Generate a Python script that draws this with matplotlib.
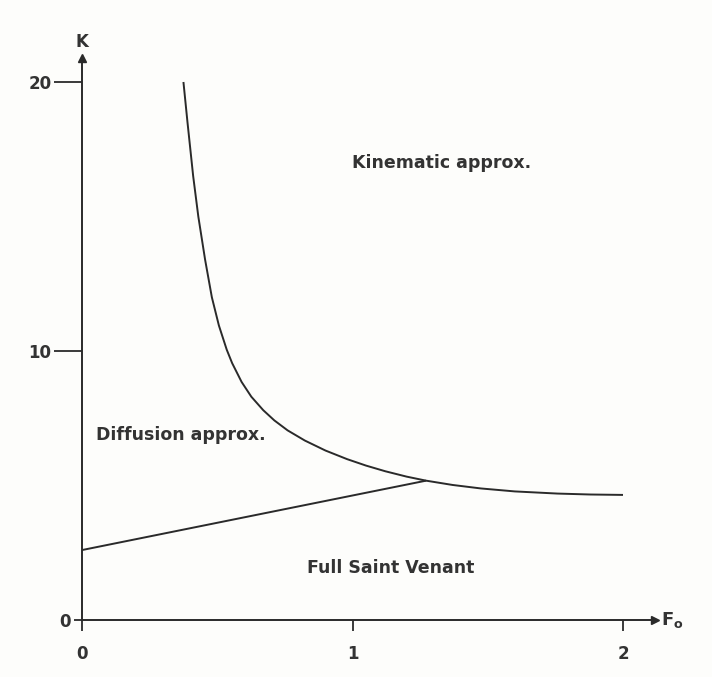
import matplotlib
matplotlib.use("Agg")
import matplotlib.pyplot as plt

# Data
curve_x = [0.375, 0.39, 0.411, 0.43, 0.455, 0.48, 0.506, 0.535, 0.555, 0.59, 0.626,
           0.67, 0.711, 0.76, 0.824, 0.90, 0.98, 1.05, 1.121, 1.20, 1.272, 1.37,
           1.475, 1.60, 1.758, 1.88, 2.0]
curve_k = [20.0, 18.5, 16.5, 15.0, 13.4, 12.0, 10.95, 10.05, 9.55, 8.85, 8.3,
           7.8, 7.42, 7.05, 6.67, 6.3, 5.98, 5.74, 5.53, 5.33, 5.18, 5.02,
           4.89, 4.78, 4.70, 4.665, 4.65]
line_x = [0.0, 1.272]
line_k = [2.6, 5.18]

x_ticks = [0, 1, 2]
x_tick_labels = ["0", "1", "2"]
y_ticks = [0, 10, 20]
y_tick_labels = ["0", "10", "20"]

region_labels = ["Kinematic approx.", "Diffusion approx.", "Full Saint Venant"]
region_x = [1.329, 0.364, 1.142]
region_k = [17.0, 6.88, 1.92]

plt.rcParams['font.family'] = ['DejaVu Sans']
plt.rcParams['mathtext.default'] = 'regular'

ink = "#2a2a2a"
txt = "#333333"

fig = plt.figure(figsize=(7.12, 6.77), dpi=100, facecolor="#fdfdfb")
ax = fig.add_axes([82/712, 57/677, 2.12*270.5/712, 20.9*26.9/677])
ax.set_facecolor("#fdfdfb")
ax.set_xlim(0, 2.12)
ax.set_ylim(0, 20.9)

for s in ["top", "right"]:
    ax.spines[s].set_visible(False)
for s in ["left", "bottom"]:
    ax.spines[s].set_color(ink)
    ax.spines[s].set_linewidth(1.4)

ax.plot(curve_x, curve_k, color=ink, lw=1.4, solid_capstyle="butt",
        solid_joinstyle="round")
ax.plot(line_x, line_k, color=ink, lw=1.4, solid_capstyle="butt")

# arrows on axis ends
ax.plot(1, 0, ">", color=ink, ms=6, transform=ax.get_yaxis_transform(), clip_on=False)
ax.plot(0, 1, "^", color=ink, ms=6, transform=ax.get_xaxis_transform(), clip_on=False)

ax.set_xticks(x_ticks)
ax.set_xticklabels(x_tick_labels)
ax.set_yticks(y_ticks)
ax.set_yticklabels(y_tick_labels)
ax.tick_params(axis="x", direction="out", length=8, width=1.3, color=ink, pad=10,
               labelsize=12, labelcolor=txt)
ax.tick_params(axis="y", direction="out", length=20, width=1.3, color=ink, pad=2,
               labelsize=12, labelcolor=txt)
t0 = ax.yaxis.get_major_ticks()[0]
t0.set_pad(-12)
t0.tick1line.set_markersize(6)
for lab in ax.get_xticklabels() + ax.get_yticklabels():
    lab.set_fontweight("bold")

for lab, x, k in zip(region_labels, region_x, region_k):
    ax.text(x, k, lab, ha="center", va="center", fontsize=12.5, fontweight="bold",
            color=txt)

ax.text(0, 21.5, "K", ha="center", va="center", fontsize=12, fontweight="bold",
        color=txt, clip_on=False)
ax.text(2.14, 0.0, "F$_o$", ha="left", va="center", fontsize=13, fontweight="bold",
        color=txt, clip_on=False)

fig.savefig("out.png", dpi=100, facecolor=fig.get_facecolor())
